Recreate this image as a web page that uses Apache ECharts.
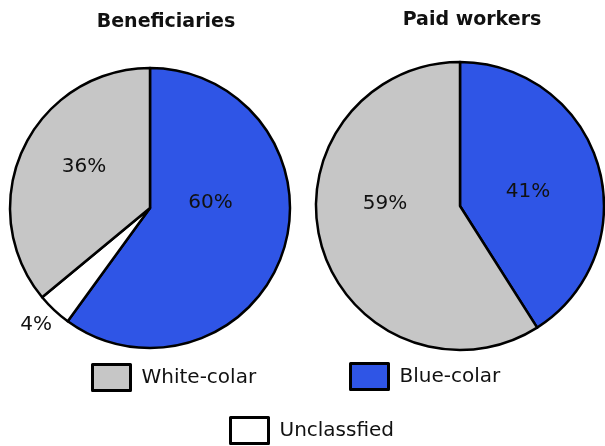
<!DOCTYPE html>
<html>
<head>
<meta charset="utf-8">
<script src="https://cdn.jsdelivr.net/npm/echarts@6/dist/echarts.min.js"></script>
<style>
  html, body { margin: 0; padding: 0; background: #fff; }
  #pic { width: 605px; height: 446px; }
</style>
</head>
<body>
<div id="pic"></div>
<script>
var titles = ['Beneficiaries', 'Paid workers'];
var leftNames = ['Blue-colar', 'Unclassfied', 'White-colar'];
var leftValues = [60, 4, 36];
var rightNames = ['Blue-colar', 'White-colar'];
var rightValues = [41, 59];

var colors = {
    'Blue-colar': '#2f55e6',
    'White-colar': '#c6c6c6',
    'Unclassfied': '#ffffff'
};

// nudge the slice labels to where the original has them
var leftShift = [[-9, -28], [-64, 64], [0, -10]];
var rightShift = [[-4, 7], [-3, -23]];

function makeData(names, values) {
    var out = [];
    for (var i = 0; i < names.length; i++) {
        out.push({ name: names[i], value: values[i], itemStyle: { color: colors[names[i]] } });
    }
    return out;
}

function makePie(center, radius, names, values, shift) {
    return {
        type: 'pie',
        center: center,
        radius: radius,
        startAngle: 90,
        clockwise: true,
        silent: true,
        itemStyle: { borderColor: '#000', borderWidth: 2.5 },
        label: {
            show: true,
            position: 'inside',
            formatter: '{c}%',
            color: '#111',
            fontFamily: 'DejaVu Sans',
            fontSize: 20
        },
        labelLine: { show: false },
        labelLayout: function(p) {
            return { dx: shift[p.dataIndex][0], dy: shift[p.dataIndex][1] };
        },
        emphasis: { disabled: true },
        data: makeData(names, values)
    };
}

function makeLegend(name, left, top) {
    return {
        data: [name],
        left: left,
        top: top,
        padding: 0,
        icon: 'rect',
        itemWidth: 38,
        itemHeight: 26,
        selectedMode: false,
        itemStyle: { borderColor: '#000', borderWidth: 3 },
        textStyle: { fontFamily: 'DejaVu Sans', fontSize: 20, color: '#111', padding: [0, 0, 0, 6] }
    };
}

var myChart = echarts.init(document.getElementById('pic'));
var option = {
    animation: false,
    backgroundColor: '#fff',
    title: [{
        text: titles[0],
        left: 161,
        top: 8,
        textAlign: 'center',
        textStyle: { fontFamily: 'DejaVu Sans', fontWeight: 'bold', fontSize: 19, color: '#111' }
    }, {
        text: titles[1],
        left: 467,
        top: 6,
        textAlign: 'center',
        textStyle: { fontFamily: 'DejaVu Sans', fontWeight: 'bold', fontSize: 19, color: '#111' }
    }],
    legend: [
        makeLegend('White-colar', 91, 363),
        makeLegend('Blue-colar', 349, 362),
        makeLegend('Unclassfied', 229, 416)
    ],
    series: [
        makePie([150, 208], 140, leftNames, leftValues, leftShift),
        makePie([460, 206], 144, rightNames, rightValues, rightShift)
    ]
};
myChart.setOption(option);
</script>
</body>
</html>
